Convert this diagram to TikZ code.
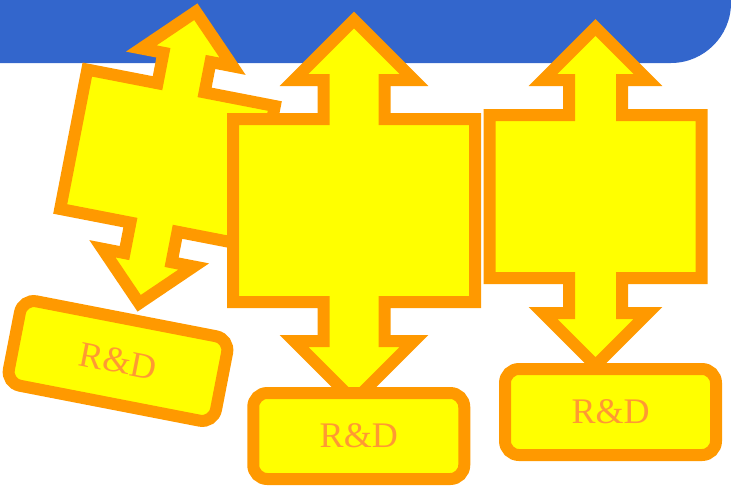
\documentclass[tikz,border=0pt]{standalone}
\usepackage{fontspec}
\setmainfont{Liberation Serif}
\definecolor{barblue}{HTML}{3366CC}
\definecolor{calloutfill}{HTML}{FFFF00}
\definecolor{calloutline}{HTML}{FF9900}
\definecolor{labeltext}{HTML}{FF9933}
\tikzset{
  callout/.style={fill=calloutfill, draw=calloutline, line width=12pt, line join=miter, miter limit=10},
  rdbox/.style={rectangle, rounded corners=14pt, fill=calloutfill, draw=calloutline, line width=12pt,
    minimum width=211pt, minimum height=86pt, inner sep=0pt, text=labeltext,
    font=\fontsize{36}{40}\selectfont}
}
% #1 box half width, #2 box half height, #3 shaft half width, #4 head half width, #5 shaft length
\newcommand{\udcallout}[5]{%
  \draw[callout] (-#1,-#2) -- (-#3,-#2) -- (-#3,{-#2-#5}) -- (-#4,{-#2-#5}) -- (0,{-#2-#5-#4})
    -- (#4,{-#2-#5}) -- (#3,{-#2-#5}) -- (#3,-#2) -- (#1,-#2) -- (#1,#2) -- (#3,#2)
    -- (#3,{#2+#5}) -- (#4,{#2+#5}) -- (0,{#2+#5+#4}) -- (-#4,{#2+#5}) -- (-#3,{#2+#5})
    -- (-#3,#2) -- (-#1,#2) -- cycle;}
\begin{document}
\begin{tikzpicture}[x=1pt, y=-1pt]
\useasboundingbox (0,0) rectangle (731,490);
% top bar
\fill[barblue] (0,-2) -- (731,-2) -- (731,3) .. controls (731,36) and (704,63) .. (671,63) -- (0,63) -- cycle;
% callouts
\begin{scope}[shift={(167.5,157.5)}, rotate=-11]
  \udcallout{95.5}{71}{24}{46.5}{31}
\end{scope}
\begin{scope}[shift={(354,210.5)}]
  \udcallout{121}{91.5}{30.5}{60}{39}
\end{scope}
\begin{scope}[shift={(595.5,196.5)}]
  \udcallout{106}{81.5}{26.5}{52.5}{35}
\end{scope}
% R&D boxes
\node[rdbox, rotate=-11] (rd1) at (118,361) {R\&D};
\node[rdbox] (rd2) at (358.75,436) {R\&D};
\node[rdbox] (rd3) at (610.5,412) {R\&D};
\end{tikzpicture}
\end{document}
